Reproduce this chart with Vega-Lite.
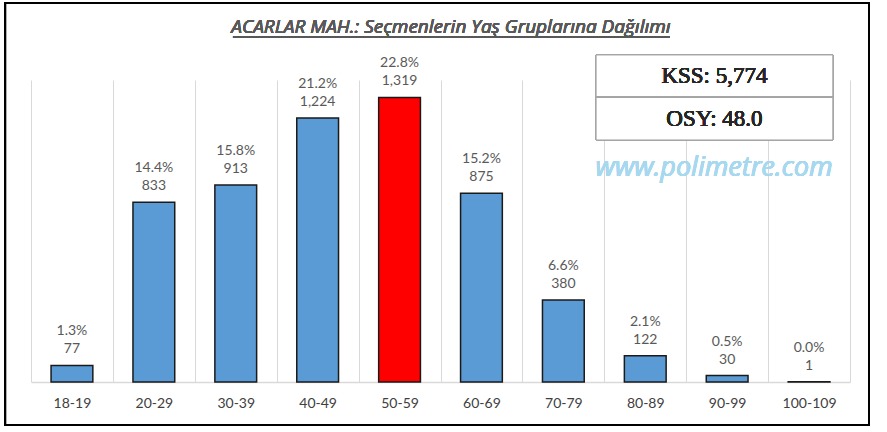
{
  "$schema": "https://vega.github.io/schema/vega-lite/v6.json",
  "width": 819,
  "height": 302,
  "autosize": {"type": "none"},
  "padding": {"left": 31, "top": 80, "right": 37, "bottom": 50},
  "background": "white",
  "config": {"view": {"stroke": null}},
  "data": {
    "values": [
      {"age": "18-19", "count": 77, "pct": 0.013},
      {"age": "20-29", "count": 833, "pct": 0.144},
      {"age": "30-39", "count": 913, "pct": 0.158},
      {"age": "40-49", "count": 1224, "pct": 0.212},
      {"age": "50-59", "count": 1319, "pct": 0.228},
      {"age": "60-69", "count": 875, "pct": 0.152},
      {"age": "70-79", "count": 380, "pct": 0.066},
      {"age": "80-89", "count": 122, "pct": 0.021},
      {"age": "90-99", "count": 30, "pct": 0.005},
      {"age": "100-109", "count": 1, "pct": 0.0}
    ]
  },
  "layer": [
    {
      "mark": {"type": "bar", "width": {"band": 0.51}, "stroke": "#1a1a1a", "strokeWidth": 1.5},
      "encoding": {
        "x": {
          "field": "age", "type": "ordinal", "sort": null,
          "scale": {"paddingInner": 0, "paddingOuter": 0},
          "axis": {
            "title": null, "labelAngle": 0, "labelFont": "Lato", "labelFontSize": 14,
            "labelColor": "#404040", "labelPadding": 14, "ticks": false,
            "domainColor": "#d9d9d9", "domainWidth": 1.5,
            "grid": true, "gridColor": "#d9d9d9", "gridWidth": 1, "tickBand": "extent"
          }
        },
        "y": {"field": "count", "type": "quantitative", "scale": {"domain": [0, 1400], "nice": false}, "axis": null},
        "color": {"condition": {"test": "datum.age === '50-59'", "value": "#ff0000"}, "value": "#5b9bd5"}
      }
    },
    {
      "mark": {"type": "text", "baseline": "middle", "dy": -16, "font": "Lato", "fontSize": 14, "color": "#595959"},
      "encoding": {
        "x": {"field": "age", "type": "ordinal", "sort": null},
        "y": {"field": "count", "type": "quantitative", "axis": null},
        "text": {"field": "count", "type": "quantitative", "format": ","}
      }
    },
    {
      "mark": {"type": "text", "baseline": "middle", "dy": -34, "font": "Lato", "fontSize": 14, "color": "#595959"},
      "encoding": {
        "x": {"field": "age", "type": "ordinal", "sort": null},
        "y": {"field": "count", "type": "quantitative", "axis": null},
        "text": {"field": "pct", "type": "quantitative", "format": ".1%"}
      }
    },
    {
      "mark": {"type": "text", "text": "ACARLAR MAH.: Seçmenlerin Yaş Gruplarına Dağılımı", "font": "Open Sans", "fontSize": 19, "fontStyle": "italic", "color": "#595959", "baseline": "middle"},
      "encoding": {
        "x": {"datum": "50-59", "type": "ordinal", "bandPosition": 1.128},
        "y": {"datum": 1646, "type": "quantitative", "axis": null}
      }
    },
    {
      "mark": {"type": "rule", "stroke": "#595959", "strokeWidth": 1},
      "encoding": {
        "x": {"datum": "30-39", "type": "ordinal", "bandPosition": 0.466},
        "x2": {"datum": "80-89", "bandPosition": 0.8},
        "y": {"datum": 1599, "type": "quantitative", "axis": null}
      }
    },
    {
      "mark": {"type": "rect", "fill": "white", "stroke": "#a6a6a6", "strokeWidth": 1},
      "encoding": {
        "x": {"datum": "80-89", "type": "ordinal", "bandPosition": -0.1},
        "x2": {"datum": "80-89", "bandPosition": 2.79},
        "y": {"datum": 1516, "type": "quantitative", "axis": null},
        "y2": {"datum": 1122}
      }
    },
    {
      "mark": {"type": "rule", "stroke": "#a6a6a6", "strokeWidth": 1},
      "encoding": {
        "x": {"datum": "80-89", "type": "ordinal", "bandPosition": -0.1},
        "x2": {"datum": "80-89", "bandPosition": 2.79},
        "y": {"datum": 1321, "type": "quantitative", "axis": null}
      }
    },
    {
      "mark": {"type": "text", "text": "KSS: 5,774", "font": "Liberation Serif", "fontSize": 23, "fontWeight": "normal", "color": "#262626", "baseline": "middle"},
      "encoding": {
        "x": {"datum": "80-89", "type": "ordinal", "bandPosition": 1.345},
        "y": {"datum": 1419, "type": "quantitative", "axis": null}
      }
    },
    {
      "mark": {"type": "text", "text": "OSY: 48.0", "font": "Liberation Serif", "fontSize": 23, "fontWeight": "normal", "color": "#262626", "baseline": "middle"},
      "encoding": {
        "x": {"datum": "80-89", "type": "ordinal", "bandPosition": 1.345},
        "y": {"datum": 1219, "type": "quantitative", "axis": null}
      }
    },
    {
      "mark": {"type": "text", "text": "www.polimetre.com", "font": "Open Sans", "fontSize": 27, "fontStyle": "italic", "color": "#a6d8f0", "baseline": "middle"},
      "encoding": {
        "x": {"datum": "80-89", "type": "ordinal", "bandPosition": 1.34},
        "y": {"datum": 992, "type": "quantitative", "axis": null}
      }
    },
    {
      "mark": {"type": "rect", "fill": null, "filled": false, "stroke": "black", "strokeWidth": 2},
      "encoding": {
        "x": {"datum": "18-19", "type": "ordinal", "bandPosition": -0.317},
        "x2": {"datum": "100-109", "bandPosition": 1.232},
        "y": {"datum": 1757, "type": "quantitative", "axis": null},
        "y2": {"datum": -199}
      }
    }
  ]
}
